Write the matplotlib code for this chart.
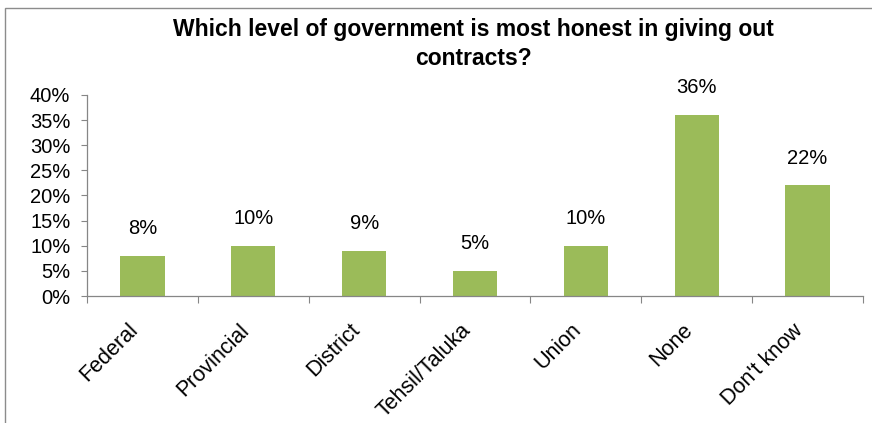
import matplotlib.pyplot as plt
import matplotlib.patches as mpatches
import matplotlib.transforms as mtransforms
from matplotlib.ticker import MultipleLocator, FuncFormatter, FixedLocator

plt.rcParams['font.family'] = ['Liberation Sans', 'DejaVu Sans']

levels = ["Federal", "Provincial", "District", "Tehsil/Taluka", "Union", "None", "Don't know"]
shares = [8, 10, 9, 5, 10, 36, 22]

bar_color = '#9BBB59'
axis_color = '#868686'

fig = plt.figure(figsize=(8.72, 4.23), dpi=100)

# outer chart frame (runs off the right and bottom edges)
frame = mpatches.Rectangle((5 / 872, -0.1), 1.1, 1 - 8 / 423 + 0.1,
                           transform=fig.transFigure, fill=False,
                           edgecolor='#8C8C8C', linewidth=1.0, clip_on=False)
fig.patches.append(frame)

ax = fig.add_axes([87 / 872, 127 / 423, 776 / 872, 201 / 423])
x = list(range(len(levels)))
bars = ax.bar(x, shares, width=0.4, color=bar_color, zorder=2)

for xi, v in zip(x, shares):
    ax.text(xi, v + 5.4, f'{v}%', ha='center', va='center', fontsize=14.5)

ax.set_xlim(-0.5, len(levels) - 0.5)
ax.set_ylim(0, 40)
ax.yaxis.set_major_locator(MultipleLocator(5))
ax.yaxis.set_major_formatter(FuncFormatter(lambda v, p: f'{v:.0f}%'))
ax.tick_params(axis='y', labelsize=14.5, length=4, width=0.8, color=axis_color, pad=8)

# category labels at bar centres, tick marks between categories
ax.set_xticks(x)
ax.set_xticklabels(levels, rotation=45, ha='right', va='top',
                   rotation_mode='anchor', fontsize=15.5)
ax.tick_params(axis='x', which='major', length=0, pad=17)
shift = mtransforms.ScaledTranslation(-15 / 100, 0, fig.dpi_scale_trans)
for lbl in ax.get_xticklabels():
    lbl.set_transform(lbl.get_transform() + shift)
ax.xaxis.set_minor_locator(FixedLocator([i - 0.5 for i in range(len(levels) + 1)]))
ax.tick_params(axis='x', which='minor', length=5, width=0.8, color=axis_color)

for side in ['top', 'right']:
    ax.spines[side].set_visible(False)
for side in ['left', 'bottom']:
    ax.spines[side].set_color(axis_color)
    ax.spines[side].set_linewidth(0.9)

fig.text(473 / 872, 1 - 44 / 423,
         'Which level of government is most honest in giving out\ncontracts?',
         ha='center', va='center', fontsize=16.5, fontweight='bold', linespacing=1.3)

fig.savefig('out.png', dpi=100)
